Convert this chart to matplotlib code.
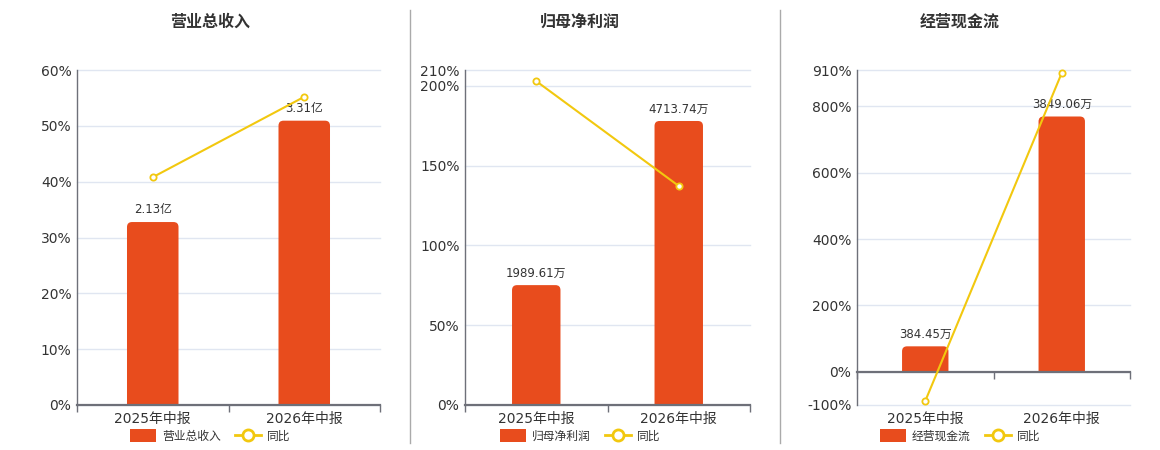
import matplotlib
matplotlib.use('Agg')
import matplotlib.pyplot as plt
from matplotlib.patches import FancyBboxPatch, Rectangle, Patch
from matplotlib.lines import Line2D
from matplotlib.ticker import FuncFormatter, FixedLocator

plt.rcParams['font.family'] = ['DejaVu Sans', 'Noto Sans CJK SC']

# ---------------- data ----------------
categories = ['2025年中报', '2026年中报']
titles = ['营业总收入', '归母净利润', '经营现金流']
bar_values = [[2.13, 3.31], [1989.61, 4713.74], [384.45, 3849.06]]
bar_labels = [['2.13亿', '3.31亿'], ['1989.61万', '4713.74万'], ['384.45万', '3849.06万']]
yoy_values = [[40.8, 55.2], [203.0, 137.3], [-88.0, 901.0]]
pct_ticks = [[0, 10, 20, 30, 40, 50, 60],
             [0, 50, 100, 150, 200, 210],
             [-100, 0, 200, 400, 600, 800, 910]]
bar_axis_limits = [(0, 3.9), (0, 5560), (-500, 4550)]
yoy_label = '同比'

# ---------------- style ----------------
BAR_COLOR = '#E84C1D'
LINE_COLOR = '#F2C80F'
GRID_COLOR = '#E0E6F1'
AXIS_COLOR = '#6E7079'
TEXT_COLOR = '#333333'
CJK = ['Noto Sans CJK SC', 'DejaVu Sans']
LATIN_FIRST = ['DejaVu Sans', 'Noto Sans CJK SC']

W, H = 1160, 450
fig = plt.figure(figsize=(W / 100, H / 100), dpi=100)
fig.patch.set_facecolor('white')

panels_px = [(77, 380), (465, 750), (857, 1130)]
top_px, bottom_px = 70, 405
centers_px = [210, 580, 960]


def round_bars(ax, bars, radius_px, baseline):
    bbox = ax.get_window_extent()
    x0, x1 = ax.get_xlim()
    y0, y1 = ax.get_ylim()
    xpp = (x1 - x0) / bbox.width
    ypp = (y1 - y0) / bbox.height
    r = radius_px * xpp
    aspect = ypp / xpp
    clip = Rectangle((x0, baseline), x1 - x0, y1 - baseline, transform=ax.transData)
    for b in list(bars):
        x, y, w, h = b.get_x(), b.get_y(), b.get_width(), b.get_height()
        b.remove()
        ext = radius_px * ypp
        p = FancyBboxPatch((x, y - ext), w, h + ext,
                           boxstyle=f"round,pad=0,rounding_size={r}",
                           mutation_aspect=aspect, fc=BAR_COLOR, ec='none', lw=0)
        ax.add_patch(p)
        p.set_clip_path(clip)


for i in range(3):
    lpx, rpx = panels_px[i]
    rect = [lpx / W, 1 - bottom_px / H, (rpx - lpx) / W, (bottom_px - top_px) / H]
    axP = fig.add_axes(rect)
    axB = axP.twinx()
    axL = axP.twinx()

    x = list(range(len(categories)))
    ylo, yhi = pct_ticks[i][0], pct_ticks[i][-1]

    # shared x ticks: majors = category centres (labels), minors = boundaries
    axP.set_xlim(-0.5, len(categories) - 0.5)
    axP.set_xticks(x)
    axP.set_xticklabels(categories)
    axP.xaxis.set_minor_locator(FixedLocator([k - 0.5 for k in range(len(categories) + 1)]))

    # percent axis (ticks + grid)
    axP.set_ylim(ylo, yhi)
    axP.set_yticks(pct_ticks[i])
    axP.yaxis.set_major_formatter(FuncFormatter(lambda v, p: f'{int(v)}%'))
    axP.tick_params(axis='y', length=0, pad=4, labelsize=10, labelcolor=TEXT_COLOR)
    axP.grid(axis='y', color=GRID_COLOR, lw=1, clip_on=False)
    axP.set_axisbelow(True)
    axP.tick_params(axis='x', which='major', length=0, pad=5, labelsize=10,
                    labelcolor=TEXT_COLOR)
    axP.tick_params(axis='x', which='minor', length=0)
    for lab in axP.get_xticklabels():
        lab.set_fontfamily(LATIN_FIRST)
    for s in ('top', 'right', 'bottom'):
        axP.spines[s].set_visible(False)
    axP.spines['left'].set_color(AXIS_COLOR)
    axP.spines['left'].set_linewidth(1)

    # bar axis
    axB.set_ylim(*bar_axis_limits[i])
    axB.set_yticks([])
    for s in axB.spines.values():
        s.set_visible(False)
    bars = axB.bar(x, bar_values[i], width=0.34, color=BAR_COLOR, zorder=2)
    for xi, v, lab in zip(x, bar_values[i], bar_labels[i]):
        axB.annotate(lab, (xi, v), xytext=(0, 4), textcoords='offset points',
                     ha='center', va='bottom', fontsize=8.5, color=TEXT_COLOR,
                     family=LATIN_FIRST)
    round_bars(axB, bars, 5, 0)

    # line axis (zero baseline + boundary ticks)
    axL.set_ylim(ylo, yhi)
    axL.set_yticks([])
    for s in ('top', 'right', 'left'):
        axL.spines[s].set_visible(False)
    axL.xaxis.set_visible(True)
    axL.spines['bottom'].set_visible(True)
    axL.spines['bottom'].set_position(('data', 0))
    axL.spines['bottom'].set_color(AXIS_COLOR)
    axL.spines['bottom'].set_linewidth(1.6)
    axL.xaxis.set_ticks_position('bottom')
    axL.tick_params(axis='x', which='major', length=0, labelbottom=False)
    axL.tick_params(axis='x', which='minor', length=5, width=1, color=AXIS_COLOR,
                    direction='out')
    axL.plot(x, yoy_values[i], color=LINE_COLOR, lw=1.5, marker='o', ms=4.5,
             mfc='white', mec=LINE_COLOR, mew=1.3, zorder=5, clip_on=False)

    # title
    fig.text(centers_px[i] / W, 1 - 22 / H, titles[i], ha='center', va='center',
             fontsize=11.5, fontweight='bold', color=TEXT_COLOR, family=CJK)

    # legend
    handles = [Patch(facecolor=BAR_COLOR, edgecolor='none', label=titles[i]),
               Line2D([], [], color=LINE_COLOR, lw=2, marker='o', ms=8, mfc='white',
                      mec=LINE_COLOR, mew=2, label=yoy_label)]
    leg = fig.legend(handles=handles, loc='center', ncol=2,
                     bbox_to_anchor=(centers_px[i] / W, 1 - 436 / H),
                     frameon=False, handlelength=2.2, handleheight=1.35,
                     handletextpad=0.5, columnspacing=1.2, borderpad=0,
                     prop={'family': CJK, 'size': 8.5})
    for t in leg.get_texts():
        t.set_color(TEXT_COLOR)

# separators
for xs in (410, 780):
    fig.add_artist(Line2D([xs / W, xs / W], [1 - 10 / H, 1 - 443 / H],
                          transform=fig.transFigure, color='#AAAAAA', lw=1))

fig.savefig('out.png', dpi=100, facecolor='white')
